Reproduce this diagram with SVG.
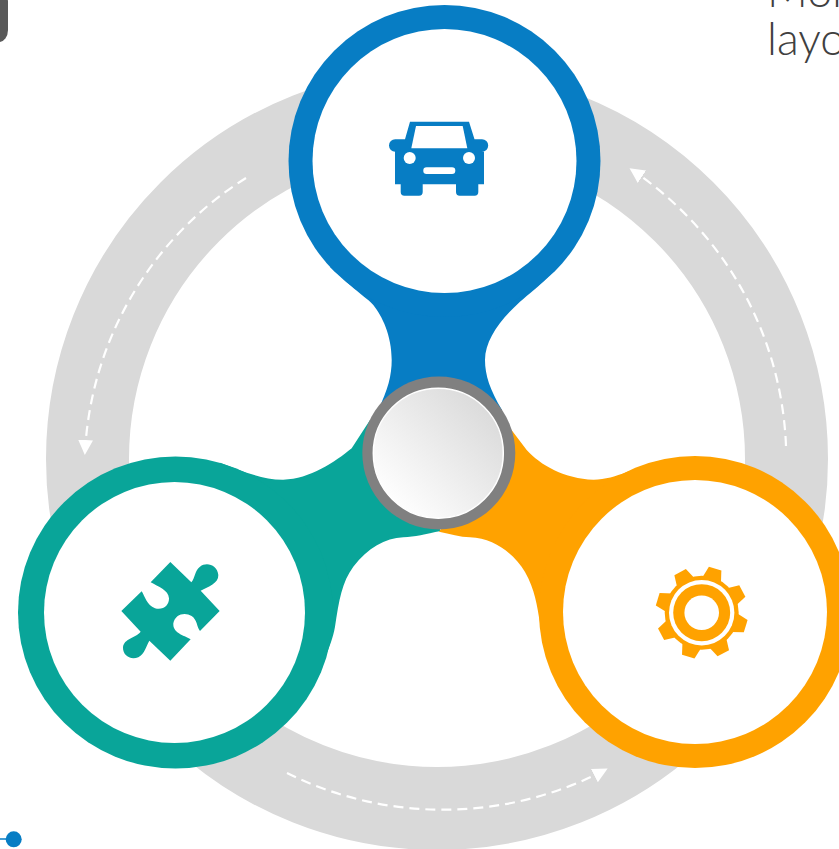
<svg xmlns="http://www.w3.org/2000/svg" width="839" height="849" viewBox="0 0 839 849">
<style>
.dash{fill:none;stroke:#fff;stroke-width:2.200;stroke-dasharray:10 6;marker-end:url(#ah)}
.hole{fill:#fff}
.blue{fill:#077dc4}.teal{fill:#09a599}.orange{fill:#ffa200}
.t{font-family:"Lato","Liberation Sans",sans-serif;font-weight:300;font-size:45px;fill:#404040}
</style>
<defs>
<marker id="ah" markerWidth="16" markerHeight="16" refX="12" refY="7.500" orient="auto" markerUnits="userSpaceOnUse"><path d="M0 0L15 7.500L0 15Z" fill="#fff"/></marker>
<linearGradient id="hub" x1="0.12" y1="0.88" x2="0.88" y2="0.12"><stop offset="0" stop-color="#ffffff"/><stop offset="1" stop-color="#dadada"/></linearGradient>
</defs>
<rect x="-10" y="-10" width="18" height="52" rx="12" fill="#595959"/>
<g id="connectors">
<circle cx="437" cy="459" r="349.500" fill="none" stroke="#d9d9d9" stroke-width="83"/>
<path class="dash" d="M786 446A349 349 0 0 0 632 170"/>
<path class="dash" d="M246 178A345 345 0 0 0 85 452"/>
<path class="dash" d="M287 773A350 350 0 0 0 605 770"/>
</g>
<g id="node-blue">
<path class="blue" d="M330 267C340 276 345 280 350 285C360 294 368 299 373.300 305C382 316 391.700 335 391.700 360C391.700 375 388 390 378 410L502 410C490 390 485 375 485 360C485 340 500 320 520 301.700C530 293 537 288 543 281.700L555 270Z"/>
<circle class="blue" cx="444.500" cy="161" r="156"/>
<circle class="hole" cx="444.500" cy="161" r="132"/>
<path class="blue" d="M410 121.700H469L474.500 139.300H482A6.200 6.200 0 0 1 482 151.700H484V184.300H478.300V192A3.700 3.700 0 0 1 474.600 195.700H459.700A3.700 3.700 0 0 1 456 192V184.300H422.700V192A3.700 3.700 0 0 1 419 195.700H404.400A3.700 3.700 0 0 1 400.700 192V184.300H395V151.700H395.200A6.200 6.200 0 0 1 395.200 139.300H405Z"/>
<path class="hole" d="M416 126H462.700L467.300 148.300H411.300Z"/>
<circle class="hole" cx="409.700" cy="158" r="6"/>
<circle class="hole" cx="469" cy="158" r="6"/>
<rect class="hole" x="423.300" y="167.300" width="32" height="6.700" rx="3.300"/>
</g>
<g id="node-teal">
<path class="teal" d="M220 462.700C240 470 262 480 283.300 479.700C310 479 335 462 351.700 448.300L370 420L441 531C425 534 415 537 403.300 537.300C385 538 368 548 353.300 566.700C342 582 339 600 335 626.700C333 638 329 648 326 655L200 600Z"/>
<ellipse class="teal" cx="175.500" cy="612.500" rx="157.500" ry="156"/>
<circle class="hole" cx="174.500" cy="612.500" r="130.500"/>
<path class="teal" transform="translate(100 540) scale(.3333)" d="M211 66L274 127C285 115 285 90 300 80C320 65 352 75 355 105C356 130 325 140 302 152L359 213L300 273C290 260 292 240 275 228C255 215 225 222 220 250C218 280 250 285 272 298L211 362L148 302C138 320 135 340 115 352C90 362 68 345 69 322C72 295 105 295 122 275L64 213L125 154C135 170 140 195 165 205C190 212 208 195 207 175C205 150 175 140 152 127Z"/>
</g>
<g id="node-orange">
<path class="orange" d="M660 460.700C640 465 615 480 593.300 479.700C565 479 540 465 526.700 450L510 428L439 531.700C450 534 460 537 470 537.300C495 538 515 555 525 572C535 590 537 605 540 623.300C541 633 543 642 545 650L680 600Z"/>
<circle class="orange" cx="695" cy="612" r="156"/>
<circle class="hole" cx="695" cy="612" r="132"/>
<g transform="translate(701.700 612.700)">
<circle class="orange" r="37"/>
<g id="teeth">
<path id="tooth" class="orange" d="M-10 -33L-6.500 -46L6.500 -46L10 -33Z" transform="rotate(17)"/>
<use href="#tooth" transform="rotate(45)"/><use href="#tooth" transform="rotate(90)"/><use href="#tooth" transform="rotate(135)"/><use href="#tooth" transform="rotate(180)"/><use href="#tooth" transform="rotate(225)"/><use href="#tooth" transform="rotate(270)"/><use href="#tooth" transform="rotate(315)"/>
</g>
<circle class="hole" r="32.700"/>
<circle class="orange" r="28.500"/>
<circle class="hole" r="17.300"/>
</g>
</g>
<g id="node-hub">
<circle cx="438.800" cy="453" r="76.500" fill="#808080"/>
<circle cx="438.300" cy="453.300" r="65" fill="url(#hub)" stroke="#fff" stroke-width="1.500"/>
</g>
<path d="M0 839H6" stroke="#077dc4" stroke-width="1.500"/>
<circle id="dot" class="blue" cx="13.700" cy="839.300" r="8"/>
<text class="t" x="767" y="7">Mor</text>
<text class="t" x="767" y="55">layo</text>
</svg>
